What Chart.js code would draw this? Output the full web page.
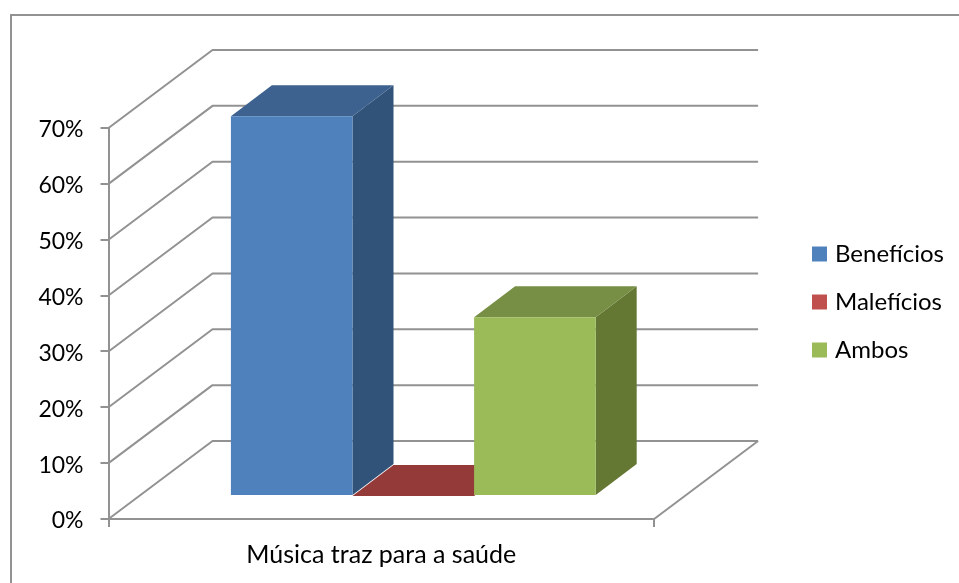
<!DOCTYPE html>
<html>
<head>
<meta charset="utf-8">
<title>Música traz para a saúde</title>
<style>
    html, body { margin: 0; padding: 0; background: #fff; }
    canvas { display: block; }
</style>
<script src="https://cdn.jsdelivr.net/npm/chart.js@4/dist/chart.umd.min.js"></script>
</head>
<body>
<canvas id="chart" width="959" height="583"></canvas>
<script>
var categories = ["Música traz para a saúde"];
var seriesNames = ["Benefícios", "Malefícios", "Ambos"];
var beneficios = [68];
var maleficios = [0];
var ambos = [32];
var yTicks = [0, 10, 20, 30, 40, 50, 60, 70];

var frontColors = ["#4f81bd", "#c0504d", "#9bbb59"];
var sideColors = ["#315279", "#7f3331", "#647733"];
var topColors = ["#3e628f", "#943a38", "#778f45"];
var lineColor = "#929292";
var fontName = "Lato, 'Open Sans', sans-serif";

// wall depth and where the bars sit inside it
var wallX = 104, wallY = 78;
var barX = 32, barY = 23;
var depthX = 41, depthY = 31;

function line(ctx, pts) {
    ctx.beginPath();
    ctx.moveTo(pts[0][0], pts[0][1]);
    for (var i = 1; i < pts.length; i++) {
        ctx.lineTo(pts[i][0], pts[i][1]);
    }
}

var walls3d = {
    id: "walls3d",
    afterLayout: function (chart) {
        // move the legend away from the plot, the chart area stays where it is
        var lg = chart.legend;
        var w = lg.right - lg.left, h = lg.bottom - lg.top;
        lg.left = 792;
        lg.right = lg.left + w;
        lg.top = 218;
        lg.bottom = lg.top + h;
    },
    beforeDraw: function (chart) {
        var ctx = chart.ctx;
        ctx.save();
        ctx.strokeStyle = lineColor;
        ctx.lineWidth = 2;
        line(ctx, [[11, 583], [11, 15], [959, 15]]);
        ctx.stroke();
        ctx.restore();
    },
    beforeDatasetsDraw: function (chart) {
        var ctx = chart.ctx;
        var y = chart.scales.y;
        var area = chart.chartArea;
        ctx.save();
        ctx.strokeStyle = lineColor;
        ctx.lineWidth = 2;
        ctx.lineJoin = "round";
        y.ticks.forEach(function (t) {
            var py = y.getPixelForValue(t.value);
            line(ctx, [[area.left, py], [area.left + wallX, py - wallY], [area.right + wallX, py - wallY]]);
            ctx.stroke();
        });
        line(ctx, [[area.right, area.bottom], [area.right + wallX, area.bottom - wallY]]);
        ctx.stroke();
        ctx.restore();

        // side and top faces, the library draws the front faces after this
        ctx.save();
        ctx.translate(barX, -barY);
        chart.data.datasets.forEach(function (ds, i) {
            var bar = chart.getDatasetMeta(i).data[0];
            var l = bar.x - bar.width / 2, r = bar.x + bar.width / 2;
            var t = bar.y, b = bar.base;
            ctx.fillStyle = sideColors[i];
            line(ctx, [[r, t], [r + depthX, t - depthY], [r + depthX, b - depthY], [r, b]]);
            ctx.closePath();
            ctx.fill();
            ctx.fillStyle = topColors[i];
            line(ctx, [[l, t], [l + depthX, t - depthY], [r + depthX, t - depthY], [r, t]]);
            ctx.closePath();
            ctx.fill();
        });
        // keep the translate on for the front faces
    },
    afterDatasetsDraw: function (chart) {
        chart.ctx.restore();
    }
};

var allValues = [beneficios, maleficios, ambos];
var datasets = [];
for (var i = 0; i < seriesNames.length; i++) {
    datasets.push({
        label: seriesNames[i],
        data: allValues[i],
        backgroundColor: frontColors[i],
        borderWidth: 0,
        barPercentage: 1,
        categoryPercentage: 0.6686,
        clip: false
    });
}

var chart = new Chart(document.getElementById("chart"), {
    type: "bar",
    data: { labels: categories, datasets: datasets },
    plugins: [walls3d],
    options: {
        responsive: false,
        animation: false,
        layout: { padding: { left: 20, right: 143, top: 128, bottom: 0 } },
        plugins: {
            title: { display: false },
            tooltip: { enabled: false },
            legend: {
                position: "right",
                align: "start",
                labels: {
                    // small box with a thick border, so the text sits closer to the square
                    boxWidth: 7,
                    boxHeight: 7,
                    padding: 24,
                    color: "#000",
                    font: { family: fontName, size: 24 },
                    generateLabels: function (chart) {
                        var items = Chart.defaults.plugins.legend.labels.generateLabels(chart);
                        items.forEach(function (it) {
                            it.lineWidth = 8;
                            it.strokeStyle = it.fillStyle;
                        });
                        return items;
                    }
                }
            }
        },
        scales: {
            x: {
                afterFit: function (s) { s.height = 64; },
                grid: { display: true, drawOnChartArea: false, drawTicks: true, tickLength: 8, color: lineColor, lineWidth: 2 },
                border: { display: true, color: lineColor, width: 2 },
                ticks: { color: "#000", padding: 13, maxRotation: 0, font: { family: fontName, size: 25 } }
            },
            y: {
                min: 0,
                max: 70,
                afterFit: function (s) { s.width = 88.5; },
                afterBuildTicks: function (s) {
                    s.ticks = yTicks.map(function (v) { return { value: v }; });
                },
                grid: { display: true, drawOnChartArea: false, drawTicks: true, tickLength: 8, color: lineColor, lineWidth: 2 },
                border: { display: true, color: lineColor, width: 2 },
                ticks: {
                    color: "#000",
                    padding: 17,
                    labelOffset: 2,
                    font: { family: fontName, size: 23 },
                    callback: function (v) { return v + "%"; }
                }
            }
        }
    }
});
</script>
</body>
</html>
